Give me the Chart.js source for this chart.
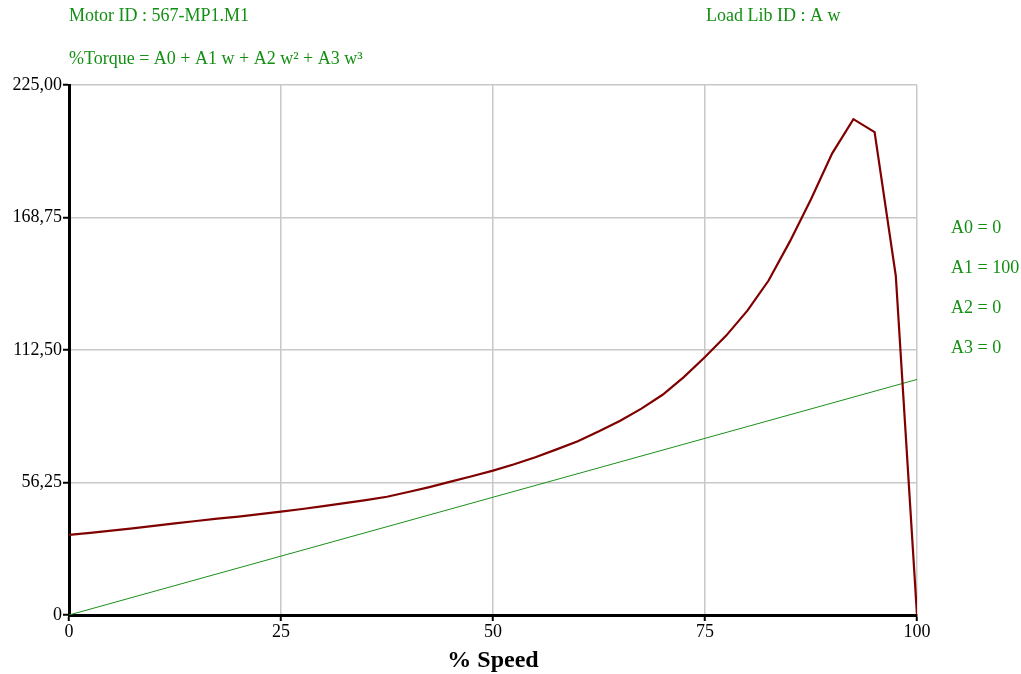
<!DOCTYPE html>
<html>
<head>
<meta charset="utf-8">
<script src="https://cdn.jsdelivr.net/npm/chart.js@4/dist/chart.umd.min.js"></script>
<style>
  html, body { margin: 0; padding: 0; background: #fff; }
  #wrap { width: 1021px; height: 674px; position: relative; }
</style>
</head>
<body>
<div id="wrap"><canvas id="c" width="1021" height="674"></canvas></div>
<script>
// ---- data ----
const speedPct = [0, 2.5, 5, 7.5, 10, 12.5, 15, 17.5, 20, 22.5, 25, 27.5, 30, 32.5, 35, 37.5, 40, 42.5, 45, 47.5, 50,
  52.5, 55, 57.5, 60, 62.5, 65, 67.5, 70, 72.5, 75, 77.5, 80, 82.5, 85, 87.5, 90, 92.5, 95, 97.5, 100];
const motorTorque = [34.0, 34.9, 35.8, 36.8, 37.8, 38.9, 39.9, 40.9, 41.8, 42.8, 43.9, 45.0, 46.2, 47.5, 48.8, 50.2, 52.2, 54.3, 56.6, 58.9, 61.3,
  64.0, 67.0, 70.3, 73.8, 78.0, 82.5, 87.6, 93.5, 101.0, 109.5, 118.6, 129.2, 142.0, 158.5, 176.5, 196.0, 210.5, 205.0, 144.0, 0];
const loadSpeed = [0, 100];
const loadTorque = [0, 100];
const xTicks = [0, 25, 50, 75, 100];
const yTicks = [0, 56.25, 112.5, 168.75, 225];
const headerTexts = ["Motor ID : 567-MP1.M1", "Load Lib ID : A w", "%Torque = A0 + A1 w + A2 w\u00B2 + A3 w\u00B3"];
const coefLabels = ["A0 = 0", "A1 = 100", "A2 = 0", "A3 = 0"];
const xTitle = "% Speed";

const GREEN = "#138f13";
const FONT = "'Liberation Serif', 'Times New Roman', serif";

const textPlugin = {
  id: 'texts',
  afterDraw(chart) {
    const ctx = chart.ctx;
    const ca = chart.chartArea;
    ctx.save();
    ctx.fillStyle = GREEN;
    ctx.font = "18px " + FONT;
    ctx.textBaseline = "middle";
    ctx.textAlign = "left";
    ctx.fillText(headerTexts[0], ca.left, 16);
    ctx.fillText(headerTexts[1], 706, 16);
    ctx.fillText(headerTexts[2], ca.left, 59);
    coefLabels.forEach((t, i) => {
      ctx.fillText(t, ca.right + 34, 228 + i * 40);
    });
    ctx.restore();
  }
};

new Chart(document.getElementById('c'), {
  type: 'scatter',
  data: {
    datasets: [
      {
        label: 'Motor',
        data: speedPct.map((x, i) => ({x, y: motorTorque[i]})),
        showLine: true,
        borderColor: '#800000',
        borderWidth: 2.2,
        pointRadius: 0,
        tension: 0,
        fill: false
      },
      {
        label: 'Load',
        data: loadSpeed.map((x, i) => ({x, y: loadTorque[i]})),
        showLine: true,
        borderColor: '#1a8f1a',
        borderWidth: 1,
        pointRadius: 0,
        tension: 0,
        fill: false
      }
    ]
  },
  options: {
    responsive: false,
    animation: false,
    devicePixelRatio: 1,
    layout: { padding: { left: 0, right: 104, top: 85, bottom: 0 } },
    plugins: { legend: { display: false }, tooltip: { enabled: false } },
    scales: {
      x: {
        type: 'linear',
        min: 0, max: 100,
        afterBuildTicks(scale) { scale.ticks = xTicks.map(v => ({value: v})); },
        afterFit(scale) { scale.height = 59; },
        border: { display: true, color: '#000', width: 3 },
        grid: { color: '#c8c8c8', lineWidth: 1.5, drawTicks: true, tickLength: 6, tickColor: '#000', tickWidth: 2 },
        ticks: { color: '#000', font: { family: FONT, size: 18 }, padding: 0, maxRotation: 0 },
        title: { display: true, text: xTitle, color: '#000', font: { family: FONT, size: 24, weight: 'bold' }, padding: { top: 0, bottom: -1 } }
      },
      y: {
        type: 'linear',
        min: 0, max: 225,
        afterBuildTicks(scale) { scale.ticks = yTicks.map(v => ({value: v})); },
        afterFit(scale) { scale.width = 69; },
        border: { display: true, color: '#000', width: 3 },
        grid: { color: '#c8c8c8', lineWidth: 1.5, drawTicks: true, tickLength: 6, tickColor: '#000', tickWidth: 2 },
        ticks: {
          color: '#000', font: { family: FONT, size: 18 }, padding: 1,
          callback: v => v === 0 ? "0" : v.toFixed(2).replace('.', ',')
        }
      }
    }
  },
  plugins: [textPlugin]
});
</script>
</body>
</html>
